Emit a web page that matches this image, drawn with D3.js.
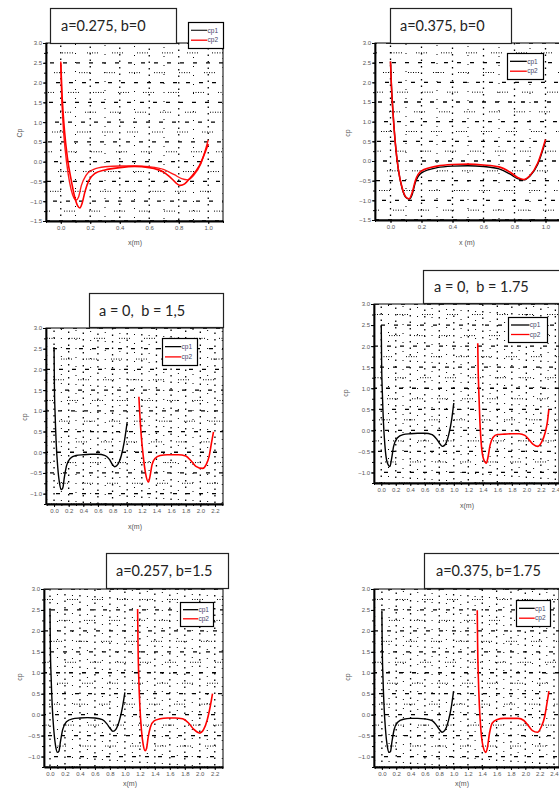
<!DOCTYPE html>
<html>
<head>
<meta charset="utf-8">
<script src="https://cdn.jsdelivr.net/npm/d3@7"></script>
<style>
  body { margin: 0; background: #fff; }
  svg { display: block; }
</style>
</head>
<body>
<svg id="fig" width="559" height="790"></svg>
<script>
// ---- values ----
const titles = ["a=0.275, b=0", "a=0.375, b=0", "a = 0,  b = 1,5", "a = 0,  b = 1.75", "a=0.257, b=1.5", "a=0.375, b=1.75"];
const seriesNames = ["cp1", "cp2"];
const xLabels = ["x(m)", "x (m)", "x(m)", "x(m)", "x(m)", "x(m)"];
const yLabels = ["Cp", "cp", "cp", "cp", "cp", "cp"];

const yTicksTop = [-1.5, -1.0, -0.5, 0.0, 0.5, 1.0, 1.5, 2.0, 2.5, 3.0];
const yTicksLow = [-1.0, -0.5, 0.0, 0.5, 1.0, 1.5, 2.0, 2.5, 3.0];
const xTicksShort = [0.0, 0.2, 0.4, 0.6, 0.8, 1.0];
const xTicks22 = [0.0, 0.2, 0.4, 0.6, 0.8, 1.0, 1.2, 1.4, 1.6, 1.8, 2.0, 2.2];
const xTicks24 = [0.0, 0.2, 0.4, 0.6, 0.8, 1.0, 1.2, 1.4, 1.6, 1.8, 2.0, 2.2, 2.4];

// a=0.275, b=0
const p1Cp1 = [[0,2.53],[0.005,1.8],[0.015,1.0],[0.03,0.3],[0.05,-0.3],[0.07,-0.7],[0.09,-0.92],[0.105,-0.97],[0.12,-0.9],[0.14,-0.6],[0.17,-0.35],[0.22,-0.2],[0.3,-0.13],[0.4,-0.11],[0.5,-0.11],[0.6,-0.13],[0.7,-0.2],[0.77,-0.33],[0.82,-0.43],[0.86,-0.46],[0.9,-0.35],[0.95,-0.05],[1.0,0.55]];
const p1Cp2 = [[0,2.5],[0.01,1.6],[0.025,0.8],[0.045,0.1],[0.07,-0.45],[0.095,-0.9],[0.115,-1.12],[0.13,-1.17],[0.145,-1.05],[0.165,-0.75],[0.19,-0.48],[0.23,-0.3],[0.3,-0.21],[0.4,-0.15],[0.5,-0.12],[0.6,-0.15],[0.7,-0.27],[0.75,-0.42],[0.81,-0.6],[0.84,-0.56],[0.88,-0.4],[0.94,-0.1],[1.0,0.45]];
// a=0.375, b=0
const p2Cp1 = [[0,2.53],[0.005,2.0],[0.015,1.3],[0.03,0.5],[0.05,-0.2],[0.075,-0.7],[0.1,-0.93],[0.12,-0.97],[0.14,-0.85],[0.16,-0.55],[0.2,-0.3],[0.3,-0.17],[0.4,-0.13],[0.5,-0.12],[0.6,-0.14],[0.7,-0.2],[0.77,-0.33],[0.82,-0.45],[0.86,-0.48],[0.9,-0.38],[0.95,-0.08],[1.0,0.5]];
const p2Cp2 = [[0,2.53],[0.005,2.0],[0.015,1.3],[0.03,0.5],[0.05,-0.2],[0.075,-0.68],[0.1,-0.92],[0.12,-0.96],[0.14,-0.8],[0.16,-0.5],[0.2,-0.25],[0.3,-0.13],[0.4,-0.09],[0.5,-0.08],[0.6,-0.1],[0.7,-0.15],[0.77,-0.28],[0.82,-0.42],[0.86,-0.47],[0.9,-0.37],[0.95,-0.05],[1.0,0.55]];
// a=0, b=1,5
const p3Cp1 = [[0,2.54],[0.005,1.6],[0.015,0.9],[0.03,0.2],[0.05,-0.35],[0.075,-0.75],[0.1,-0.9],[0.12,-0.86],[0.14,-0.62],[0.17,-0.33],[0.22,-0.15],[0.3,-0.08],[0.4,-0.06],[0.5,-0.05],[0.6,-0.05],[0.7,-0.08],[0.76,-0.18],[0.8,-0.3],[0.83,-0.35],[0.87,-0.3],[0.92,-0.08],[0.96,0.25],[1.0,0.73]];
const p3Cp2 = [[1.16,1.34],[1.17,1.0],[1.19,0.45],[1.22,-0.1],[1.25,-0.5],[1.29,-0.72],[1.31,-0.6],[1.34,-0.3],[1.38,-0.15],[1.45,-0.08],[1.55,-0.06],[1.7,-0.06],[1.8,-0.09],[1.87,-0.2],[1.94,-0.34],[2.03,-0.39],[2.08,-0.3],[2.12,-0.1],[2.15,0.2],[2.18,0.49]];
// a=0, b=1.75
const p4Cp1 = [[0,2.5],[0.005,1.6],[0.015,0.9],[0.03,0.2],[0.05,-0.35],[0.08,-0.75],[0.12,-0.86],[0.14,-0.7],[0.17,-0.38],[0.22,-0.18],[0.3,-0.1],[0.4,-0.08],[0.5,-0.07],[0.6,-0.07],[0.7,-0.1],[0.76,-0.2],[0.8,-0.3],[0.84,-0.38],[0.88,-0.34],[0.93,-0.1],[0.97,0.25],[1.0,0.65]];
const p4Cp2 = [[1.33,2.07],[1.335,1.5],[1.345,0.9],[1.36,0.2],[1.38,-0.35],[1.41,-0.68],[1.45,-0.78],[1.47,-0.65],[1.5,-0.35],[1.54,-0.17],[1.6,-0.1],[1.7,-0.09],[1.8,-0.08],[1.9,-0.08],[1.98,-0.12],[2.05,-0.25],[2.1,-0.34],[2.16,-0.38],[2.21,-0.28],[2.26,-0.05],[2.29,0.2],[2.31,0.5]];
// a=0.257, b=1.5
const p5Cp1 = [[0,2.53],[0.005,1.6],[0.015,0.9],[0.03,0.2],[0.05,-0.35],[0.075,-0.75],[0.1,-0.9],[0.12,-0.87],[0.14,-0.64],[0.17,-0.35],[0.22,-0.17],[0.3,-0.1],[0.4,-0.08],[0.5,-0.07],[0.6,-0.08],[0.7,-0.12],[0.76,-0.22],[0.8,-0.32],[0.84,-0.4],[0.88,-0.35],[0.93,-0.12],[0.97,0.2],[1.0,0.53]];
const p5Cp2 = [[1.17,2.52],[1.175,1.7],[1.185,0.9],[1.2,0.2],[1.22,-0.35],[1.245,-0.72],[1.27,-0.86],[1.29,-0.8],[1.31,-0.55],[1.34,-0.3],[1.39,-0.15],[1.47,-0.1],[1.57,-0.08],[1.67,-0.08],[1.77,-0.1],[1.85,-0.2],[1.92,-0.35],[2.0,-0.44],[2.05,-0.36],[2.1,-0.12],[2.14,0.2],[2.17,0.5]];
// a=0.375, b=1.75
const p6Cp1 = [[0,2.45],[0.005,1.6],[0.015,0.9],[0.03,0.2],[0.05,-0.35],[0.075,-0.75],[0.1,-0.9],[0.12,-0.88],[0.14,-0.65],[0.17,-0.36],[0.22,-0.18],[0.3,-0.11],[0.4,-0.09],[0.5,-0.09],[0.6,-0.1],[0.7,-0.14],[0.76,-0.25],[0.8,-0.35],[0.84,-0.42],[0.88,-0.37],[0.93,-0.13],[0.97,0.2],[1.0,0.56]];
const p6Cp2 = [[1.33,2.49],[1.335,1.7],[1.345,0.9],[1.36,0.2],[1.38,-0.35],[1.41,-0.75],[1.45,-0.9],[1.47,-0.8],[1.5,-0.45],[1.54,-0.2],[1.6,-0.12],[1.7,-0.09],[1.8,-0.09],[1.9,-0.09],[1.98,-0.14],[2.05,-0.28],[2.1,-0.38],[2.17,-0.42],[2.22,-0.3],[2.27,-0.05],[2.3,0.25],[2.33,0.56]];

// ---- panel geometry (pixels) ----
const panels = [
  { title: titles[0], series: [p1Cp1, p1Cp2], colors: ["#ff1a1a", "#ff0000"], xDom: [-0.1, 1.1], yDom: [-1.5, 3.0], xTicks: xTicksShort, yTicks: yTicksTop,
    left: 46, right: 223, top: 43, bottom: 221, box: [50, 8, 126, 35], textX: 61, legend: [188, 22, 35, 26], xLab: [135, 245], yLab: [22, 133], xLabel: xLabels[0], yLabel: yLabels[0] },
  { title: titles[1], series: [p2Cp1, p2Cp2], colors: ["#000", "#ff0000"], xDom: [-0.1, 1.1], yDom: [-1.5, 3.0], xTicks: xTicksShort, yTicks: yTicksTop,
    left: 375, right: 561, top: 43, bottom: 220, box: [390, 8, 121, 35], textX: 400, legend: [507, 53, 36, 26], xLab: [467, 245], yLab: [350, 133], xLabel: xLabels[1], yLabel: yLabels[1] },
  { title: titles[2], series: [p3Cp1, p3Cp2], colors: ["#000", "#ff0000"], xDom: [-0.11, 2.31], yDom: [-1.25, 3.0], xTicks: xTicks22, yTicks: yTicksLow,
    left: 46, right: 223, top: 328, bottom: 504, box: [89, 293, 134, 34], textX: 99, legend: [162, 338, 35, 27], xLab: [135, 529], yLab: [27, 417], xLabel: xLabels[2], yLabel: yLabels[2] },
  { title: titles[3], series: [p4Cp1, p4Cp2], colors: ["#000", "#ff0000"], xDom: [-0.1, 2.45], yDom: [-1.25, 3.0], xTicks: xTicks24, yTicks: yTicksLow,
    left: 374, right: 559, top: 304, bottom: 483, box: [423, 270, 142, 33], textX: 434, legend: [508, 317, 39, 25], xLab: [467, 508], yLab: [348, 393], xLabel: xLabels[3], yLabel: yLabels[3] },
  { title: titles[4], series: [p5Cp1, p5Cp2], colors: ["#000", "#ff0000"], xDom: [-0.08, 2.31], yDom: [-1.25, 3.0], xTicks: xTicks22, yTicks: yTicksLow,
    left: 44, right: 223, top: 589, bottom: 767, box: [106, 553, 122, 35], textX: 116, legend: [180, 602, 33, 24], xLab: [130, 786], yLab: [22, 677], xLabel: xLabels[4], yLabel: yLabels[4] },
  { title: titles[5], series: [p6Cp1, p6Cp2], colors: ["#000", "#ff0000"], xDom: [-0.11, 2.47], yDom: [-1.25, 3.0], xTicks: xTicks24, yTicks: yTicksLow,
    left: 374, right: 559, top: 589, bottom: 767, box: [424, 553, 141, 35], textX: 436, legend: [516, 600, 34, 26], xLab: [462, 786], yLab: [350, 677], xLabel: xLabels[5], yLabel: yLabels[5] }
];

const svg = d3.select("#fig");
const fmt = d3.format(".1f");

function rangeStep(lo, hi, step) {
  // multiples of step inside [lo, hi]
  const out = [];
  for (let k = Math.ceil(lo / step - 1e-9); k * step <= hi + 1e-9; k++) out.push(+(k * step).toFixed(3));
  return out;
}

function drawPanel(p, i) {
  const g = svg.append("g");
  const x = d3.scaleLinear().domain(p.xDom).range([p.left, p.right]);
  const y = d3.scaleLinear().domain(p.yDom).range([p.bottom, p.top]);

  const clipId = "clip" + i;
  g.append("clipPath").attr("id", clipId)
    .append("rect").attr("x", p.left).attr("y", p.top)
    .attr("width", p.right - p.left).attr("height", p.bottom - p.top);

  /* the dotted background grid of the originals */
  const grid = g.append("g").attr("clip-path", "url(#" + clipId + ")").attr("stroke", "#000").attr("fill", "none");
  const yMinor = rangeStep(p.yDom[0], p.yDom[1], 0.25);
  yMinor.forEach(function (v, k) {
    const major = Math.abs(v * 2 - Math.round(v * 2)) < 1e-6;
    grid.append("line")
      .attr("x1", p.left).attr("x2", p.right).attr("y1", y(v)).attr("y2", y(v))
      .attr("stroke-width", major ? 1.3 : 1)
      .attr("stroke-dasharray", major ? "4,9" : "1,1.5,1,1.5,1,1.5,1,1.5,1,14")
      .attr("stroke-dashoffset", major ? (k * 3) % 13 : (k * 7) % 22);
  });
  const xMinor = rangeStep(p.xDom[0], p.xDom[1], 0.1);
  xMinor.forEach(function (v, k) {
    const major = Math.abs(v * 5 - Math.round(v * 5)) < 1e-6;
    grid.append("line")
      .attr("x1", x(v)).attr("x2", x(v)).attr("y1", p.top).attr("y2", p.bottom)
      .attr("stroke-width", major ? 1.3 : 1)
      .attr("stroke-dasharray", major ? "1.5,5" : "1,8")
      .attr("stroke-dashoffset", (k * 4) % 9);
  });

  /* the Cp curves */
  const line = d3.line().x(function (d) { return x(d[0]); }).y(function (d) { return y(d[1]); }).curve(d3.curveMonotoneX);
  const curves = g.append("g").attr("clip-path", "url(#" + clipId + ")");
  p.series.forEach(function (s, k) {
    curves.append("path").datum(s)
      .attr("d", line).attr("fill", "none")
      .attr("stroke", p.colors[k])
      .attr("stroke-width", k === 1 ? 1.6 : 1.4)
      .attr("stroke-linejoin", "round");
  });

  /* frame */
  g.append("rect").attr("x", p.left).attr("y", p.top)
    .attr("width", p.right - p.left).attr("height", p.bottom - p.top)
    .attr("fill", "none").attr("stroke", "#000").attr("stroke-width", 1);

  /* axes with minor ticks */
  const yAxis = g.append("g").attr("transform", "translate(" + p.left + ",0)")
    .call(d3.axisLeft(y).tickValues(p.yTicks).tickFormat(fmt).tickSizeInner(3).tickSizeOuter(0).tickPadding(1));
  g.append("g").attr("transform", "translate(" + p.left + ",0)")
    .call(d3.axisLeft(y).tickValues(yMinor).tickFormat("").tickSizeInner(2).tickSizeOuter(0))
    .select(".domain").remove();
  const xAxis = g.append("g").attr("transform", "translate(0," + p.bottom + ")")
    .call(d3.axisBottom(x).tickValues(p.xTicks).tickFormat(fmt).tickSizeInner(3).tickSizeOuter(0).tickPadding(2));
  g.append("g").attr("transform", "translate(0," + p.bottom + ")")
    .call(d3.axisBottom(x).tickValues(xMinor).tickFormat("").tickSizeInner(2).tickSizeOuter(0))
    .select(".domain").remove();
  [yAxis, xAxis].forEach(function (a) {
    a.select(".domain").attr("stroke-width", 1.8);
    a.selectAll("text").attr("font-family", "Liberation Sans, Arial, sans-serif").attr("font-size", 6).attr("fill", "#555");
  });

  /* axis titles */
  g.append("text").attr("x", p.xLab[0]).attr("y", p.xLab[1])
    .attr("text-anchor", "middle").attr("font-family", "Liberation Sans, Arial, sans-serif")
    .attr("font-size", 7).attr("fill", "#555").text(p.xLabel);
  g.append("text").attr("transform", "translate(" + p.yLab[0] + "," + p.yLab[1] + ") rotate(-90)")
    .attr("text-anchor", "middle").attr("font-family", "Liberation Sans, Arial, sans-serif")
    .attr("font-size", 7).attr("fill", "#555").text(p.yLabel);

  /* title box */
  g.append("rect").attr("x", p.box[0] + 0.5).attr("y", p.box[1] + 0.5)
    .attr("width", p.box[2]).attr("height", p.box[3])
    .attr("fill", "#fff").attr("stroke", "#222").attr("stroke-width", 1.2);
  g.append("text").attr("x", p.textX).attr("y", p.box[1] + p.box[3] / 2 + 5.5)
    .attr("font-family", "Lato, 'Open Sans', sans-serif").attr("font-size", 14.5)
    .attr("fill", "#222").attr("xml:space", "preserve").text(p.title);

  /* legend */
  const L = p.legend;
  const leg = g.append("g").attr("transform", "translate(" + L[0] + "," + L[1] + ")");
  leg.append("rect").attr("x", 0.5).attr("y", 0.5).attr("width", L[2]).attr("height", L[3])
    .attr("fill", "#fff").attr("stroke", "#000").attr("stroke-width", 1.2);
  seriesNames.forEach(function (name, k) {
    const yy = L[3] * (k === 0 ? 0.32 : 0.7);
    leg.append("line").attr("x1", 3).attr("x2", L[2] * 0.55).attr("y1", yy).attr("y2", yy)
      .attr("stroke", k === 0 ? (i === 0 ? "#333" : "#000") : "#ff0000").attr("stroke-width", 1.3);
    leg.append("text").attr("x", L[2] * 0.56).attr("y", yy + 2.2)
      .attr("font-family", "Liberation Sans, Arial, sans-serif").attr("font-size", 6.5)
      .attr("fill", "#446").text(name);
  });
}

panels.forEach(drawPanel);
</script>
</body>
</html>
